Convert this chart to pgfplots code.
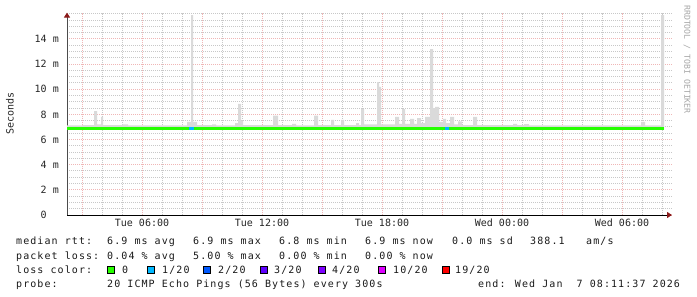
\documentclass[border=0pt]{standalone}
\usepackage{fontspec}
\setmonofont{DejaVu Sans Mono}
\usepackage{pgfplots}
\pgfplotsset{compat=1.18}
\usetikzlibrary{arrows.meta}
\newfontfamily\legfont[LetterSpace=10.8]{DejaVu Sans Mono}
\newfontfamily\tickfont{DejaVu Sans Mono}
\newcommand\legf{\legfont\fontsize{10bp}{12bp}\selectfont}
\newcommand\tickf{\tickfont\fontsize{10bp}{12bp}\selectfont}
\definecolor{smoke}{HTML}{DADADA}
\definecolor{loss0}{HTML}{26FF00}
\definecolor{loss1}{HTML}{00B8FF}
\definecolor{loss2}{HTML}{0059FF}
\definecolor{loss3}{HTML}{5E00FF}
\definecolor{loss4}{HTML}{7E00FF}
\definecolor{loss10}{HTML}{DD00FF}
\definecolor{loss19}{HTML}{FF0000}
\definecolor{mgrid}{HTML}{F0B6B6}
\definecolor{ngrid}{HTML}{C8C8C8}
\definecolor{arrowred}{HTML}{8B1A1A}
\newcommand\lbox[1]{{\setlength\fboxsep{0pt}\setlength\fboxrule{1bp}\fcolorbox{black}{#1}{\rule{6bp}{0pt}\rule{0pt}{6bp}}}}
\begin{document}
\begin{tikzpicture}
\path[use as bounding box] (0,0) rectangle (697bp,297bp);
\begin{axis}[
  at={(67bp,82bp)}, anchor=south west,
  scale only axis, width=605bp, height=202.4bp,
  xmin=2.25, xmax=32.5, ymin=0, ymax=16.1,
  axis lines=left,
  x axis line style={black, line width=1bp, -{Triangle[length=5bp,width=6bp,color=arrowred]}},
  y axis line style={black!70, line width=1bp, -{Triangle[length=5bp,width=6bp,color=arrowred]}},
  xtick={6,12,18,24,30},
  xticklabels={Tue 06:00,Tue 12:00,Tue 18:00,Wed 00:00,Wed 06:00},
  minor xtick={3,4,...,32},
  extra x ticks={3,9,15,21,27},
  extra x tick labels={},
  extra x tick style={grid=major},
  ytick={0,2,...,14},
  yticklabels={0\phantom{ m},2 m,4 m,6 m,8 m,10 m,12 m,14 m},
  minor ytick={0.5,1,...,16},
  grid=both,
  major grid style={mgrid, line width=1bp, dash pattern=on 1bp off 1bp},
  minor grid style={ngrid, line width=1bp, dash pattern=on 1bp off 1bp},
  major tick length=0pt, minor tick length=0pt,
  tick label style={font=\tickf, text=black!85},
  xticklabel style={anchor=north, yshift=-4bp, inner sep=0pt},
  yticklabel style={anchor=east, xshift=-8bp, inner sep=0pt},
  ylabel={Seconds},
  every axis y label/.style={at={(axis description cs:-0.0942,0.5)}, rotate=90, anchor=center, font=\tickf, text=black!85},
  clip=false,
]
\addplot[fill=smoke, draw=none, const plot] coordinates {
(2.25,6.78) (2.25,7.12) (3.0,7.15) (3.6,8.27) (3.75,7.2) (3.95,7.8) (4.05,7.15)
(5.0,7.2) (5.3,7.12) (8.25,7.4) (8.45,15.9) (8.55,7.4) (8.75,7.15) (9.5,7.2) (9.7,7.12)
(10.65,7.3) (10.8,8.83) (10.95,7.5) (11.05,7.15) (12.55,7.9) (12.8,7.15) (13.5,7.25) (13.7,7.12)
(14.6,7.9) (14.8,7.15) (15.45,7.56) (15.6,7.15) (15.95,7.56) (16.1,7.15) (16.7,7.3) (16.85,7.15)
(16.95,8.45) (17.1,7.2) (17.75,10.56) (17.85,10.2) (17.95,7.2) (18.65,7.8) (18.85,7.25)
(19.0,8.43) (19.15,7.25) (19.4,7.64) (19.6,7.25) (19.75,7.7) (19.95,7.3) (20.15,7.8)
(20.4,13.2) (20.55,8.5) (20.65,8.6) (20.85,7.4) (21.05,7.64) (21.2,7.3) (21.4,7.8) (21.6,7.2)
(21.8,7.45) (22.0,7.15) (22.55,7.8) (22.75,7.15) (24.55,7.25) (24.75,7.15) (25.1,7.22) (25.35,7.12)
(30.95,7.4) (31.15,7.12) (31.95,15.9) (32.1,6.78)
} -- cycle;
\addplot[loss0, line width=3bp] coordinates {(2.25,6.88) (32.1,6.88)};
\addplot[loss1, line width=3bp] coordinates {(8.35,6.88) (8.6,6.88)};
\addplot[loss1, line width=3bp] coordinates {(21.15,6.88) (21.35,6.88)};
\end{axis}
\node[rotate=-90, anchor=west, inner sep=0pt, font=\tickfont\fontsize{8.2bp}{9bp}\selectfont, text=black!35] at (687bp,292bp) {RRDTOOL / TOBI OETIKER};
\begin{scope}[every node/.style={anchor=base west, inner sep=0pt, font=\legf, text=black!90}]
\node at (16bp,52bp) {median rtt:};
\node at (107bp,52bp) {6.9 ms avg};
\node at (193bp,52bp) {6.9 ms max};
\node at (279bp,52bp) {6.8 ms min};
\node at (365bp,52bp) {6.9 ms now};
\node at (452bp,52bp) {0.0 ms sd};
\node at (530bp,52bp) {388.1};
\node at (586bp,52bp) {am/s};
\node at (16bp,38bp) {packet loss:};
\node at (107bp,38bp) {0.04 \% avg};
\node at (193bp,38bp) {5.00 \% max};
\node at (279bp,38bp) {0.00 \% min};
\node at (365bp,38bp) {0.00 \% now};
\node at (16bp,24bp) {loss color:};
\node at (107bp,24bp) {\lbox{loss0}};
\node at (122bp,24bp) {0};
\node at (147bp,24bp) {\lbox{loss1}};
\node at (162bp,24bp) {1/20};
\node at (203bp,24bp) {\lbox{loss2}};
\node at (218bp,24bp) {2/20};
\node at (260bp,24bp) {\lbox{loss3}};
\node at (274bp,24bp) {3/20};
\node at (318bp,24bp) {\lbox{loss4}};
\node at (332bp,24bp) {4/20};
\node at (378bp,24bp) {\lbox{loss10}};
\node at (393bp,24bp) {10/20};
\node at (442bp,24bp) {\lbox{loss19}};
\node at (455bp,24bp) {19/20};
\node at (16bp,10bp) {probe:};
\node at (107bp,10bp) {20 ICMP Echo Pings (56 Bytes) every 300s};
\node at (478bp,10bp) {end: Wed Jan\ \ 7 08:11:37 2026};
\end{scope}
\end{tikzpicture}
\end{document}
